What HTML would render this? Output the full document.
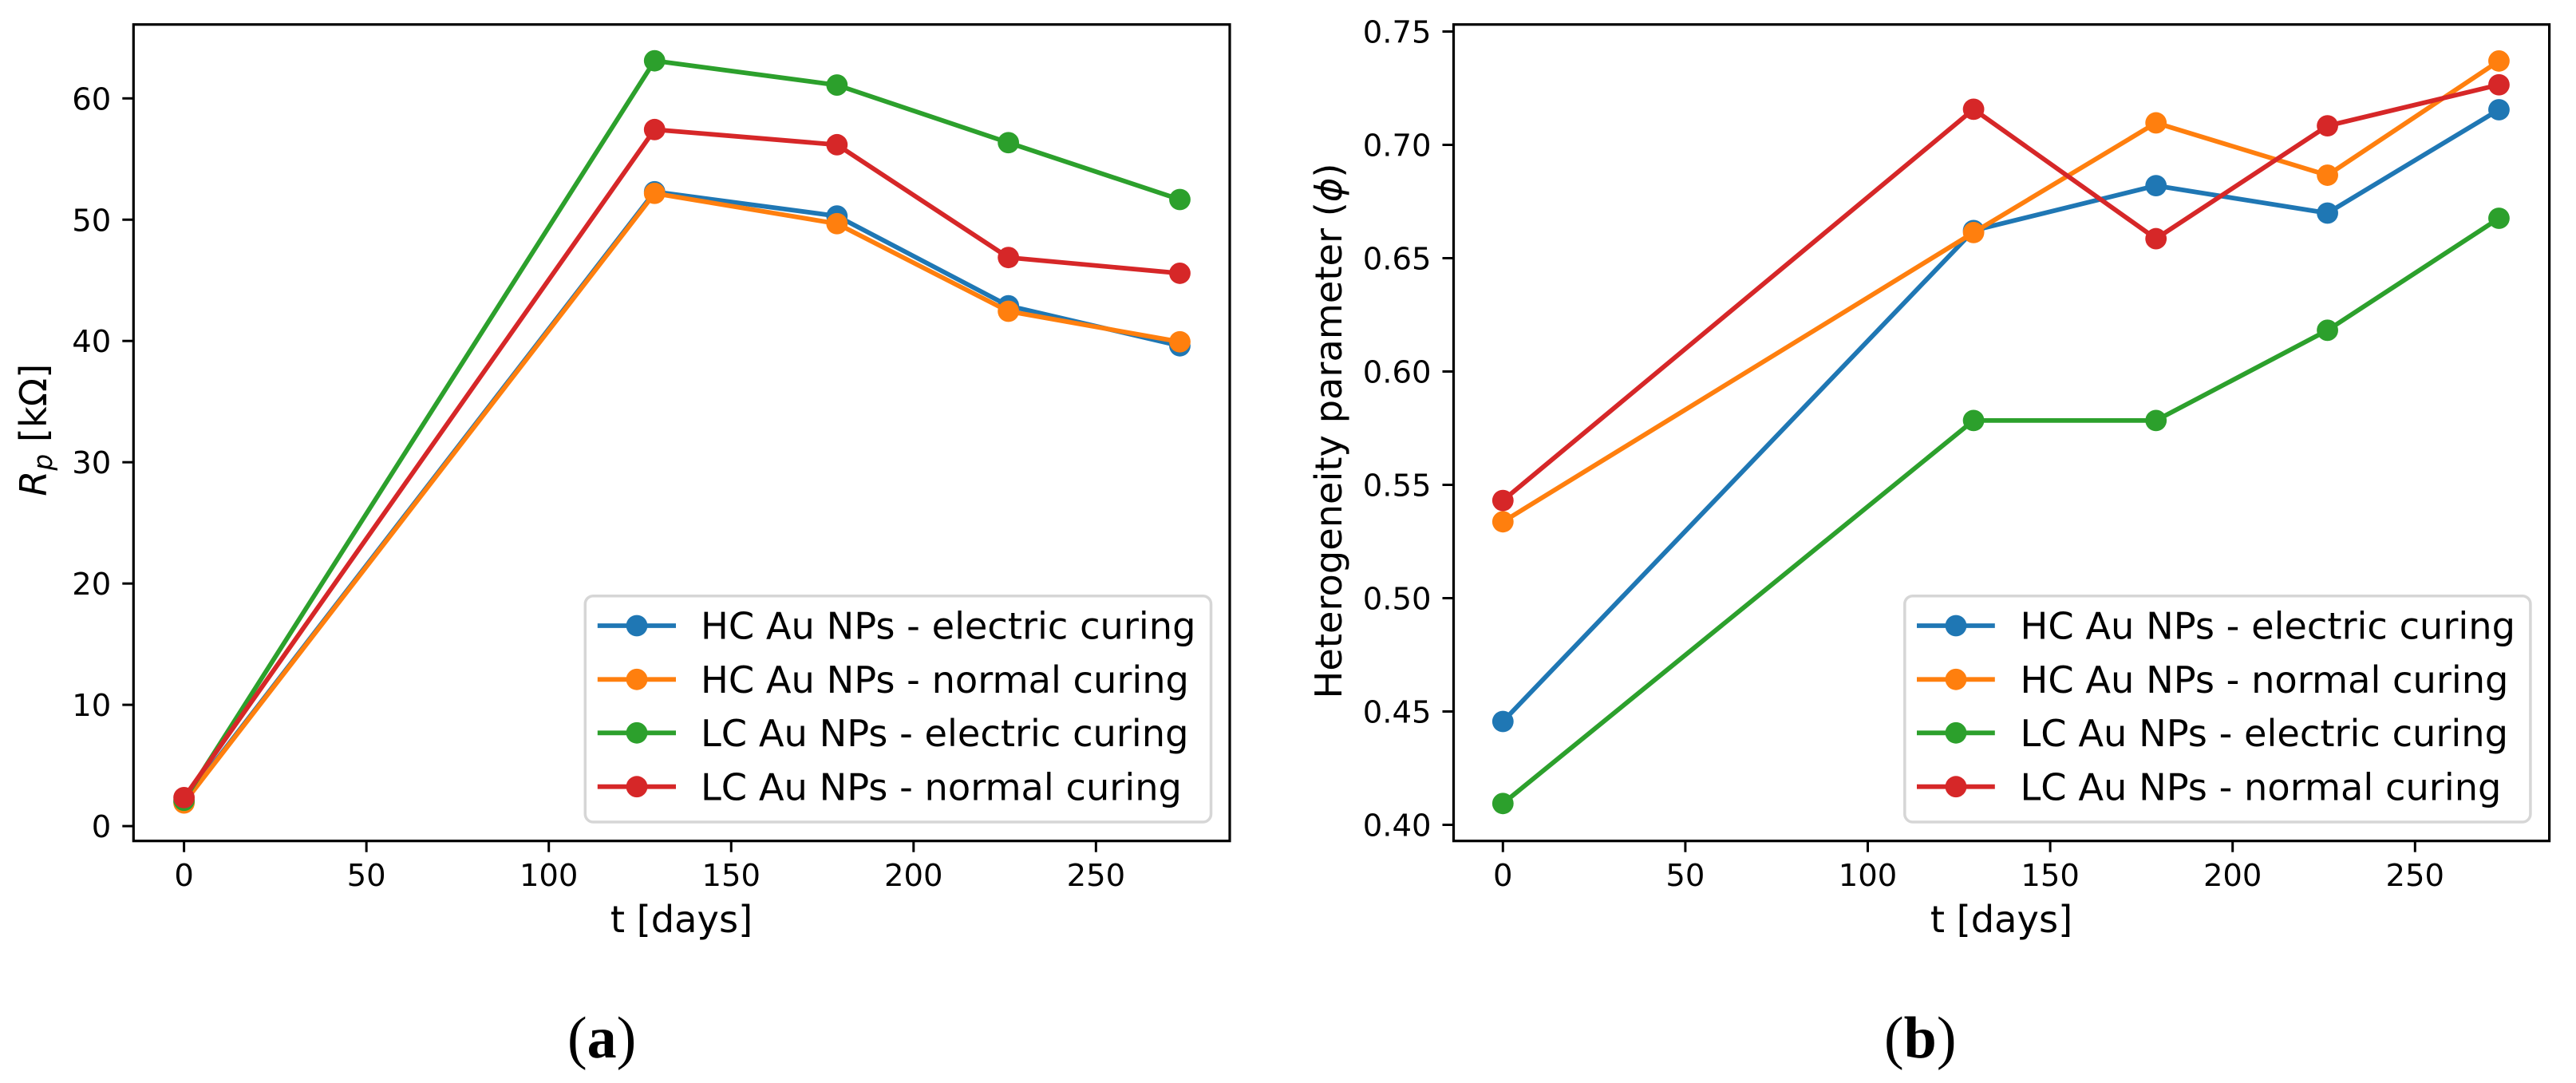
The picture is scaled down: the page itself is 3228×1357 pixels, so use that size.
<!DOCTYPE html>
<html lang="en">
<head>
<meta charset="utf-8">
<title>Rp and heterogeneity parameter over time</title>
<style>
  html, body { margin: 0; padding: 0; background: #fff; width: 3228px; height: 1357px; overflow: hidden; }
  svg { display: block; }
  text { font-family: "DejaVu Sans", "Liberation Sans", sans-serif; fill: #000; }
  .legend-text, .axis-title { font-size: 46.3px; }
  .tick-text { font-size: 38.5px; }
  .caption { font-family: "Liberation Serif", "DejaVu Serif", serif; font-size: 74px; }
  .legend-box { fill: #fff; stroke: #d6d6d6; stroke-width: 3.5; }
  .spine { fill: none; stroke: #000; stroke-width: 3.2; }
</style>
</head>
<body>
<svg id="figure" xmlns="http://www.w3.org/2000/svg" width="3228" height="1357" viewBox="0 0 3228 1357">
  <rect x="0" y="0" width="3228" height="1357" fill="#fff"/>

  <!-- Panel A -->
  <g id="panel-a">
    <g id="a-ticks"></g>
    <g id="a-series"></g>
    <rect class="spine" x="167.3" y="30.7" width="1373.7" height="1023"/>
    <text class="axis-title" transform="translate(58 621.7) rotate(-90)"><tspan font-style="italic">R</tspan><tspan font-style="italic" font-size="32.5" dy="7">p</tspan><tspan dy="-7"> [kΩ]</tspan></text>
    <text class="axis-title" x="854" y="1168" text-anchor="middle">t [days]</text>
    <g>
      <rect class="legend-box" x="733.3" y="746.7" width="784.2" height="283.3" rx="10"/>
      <g>
        <line x1="748.8" x2="847" y1="784" y2="784" stroke="#1f77b4" stroke-width="5.8"/>
        <circle cx="798" cy="784" r="13.4" fill="#1f77b4"/>
        <text class="legend-text" x="878" y="800.7">HC Au NPs - electric curing</text>
      </g>
      <g>
        <line x1="748.8" x2="847" y1="851.3" y2="851.3" stroke="#ff7f0e" stroke-width="5.8"/>
        <circle cx="798" cy="851.3" r="13.4" fill="#ff7f0e"/>
        <text class="legend-text" x="878" y="868">HC Au NPs - normal curing</text>
      </g>
      <g>
        <line x1="748.8" x2="847" y1="918.3" y2="918.3" stroke="#2ca02c" stroke-width="5.8"/>
        <circle cx="798" cy="918.3" r="13.4" fill="#2ca02c"/>
        <text class="legend-text" x="878" y="935">LC Au NPs - electric curing</text>
      </g>
      <g>
        <line x1="748.8" x2="847" y1="985.7" y2="985.7" stroke="#d62728" stroke-width="5.8"/>
        <circle cx="798" cy="985.7" r="13.4" fill="#d62728"/>
        <text class="legend-text" x="878" y="1002.4">LC Au NPs - normal curing</text>
      </g>
    </g>
    <text class="caption" x="711" y="1325">(<tspan font-weight="bold">a</tspan>)</text>
  </g>

  <!-- Panel B -->
  <g id="panel-b">
    <g id="b-ticks"></g>
    <g id="b-series"></g>
    <rect class="spine" x="1821.5" y="30.7" width="1373.1" height="1023"/>
    <text class="axis-title" text-anchor="middle" transform="translate(1681 540) rotate(-90)">Heterogeneity parameter (<tspan font-style="italic">ϕ</tspan>)</text>
    <text class="axis-title" x="2508" y="1168" text-anchor="middle">t [days]</text>
    <g>
      <rect class="legend-box" x="2386.8" y="746.7" width="784.1" height="283.3" rx="10"/>
      <g>
        <line x1="2402" x2="2499.8" y1="784" y2="784" stroke="#1f77b4" stroke-width="5.8"/>
        <circle cx="2451" cy="784" r="13.4" fill="#1f77b4"/>
        <text class="legend-text" x="2531.5" y="800.7">HC Au NPs - electric curing</text>
      </g>
      <g>
        <line x1="2402" x2="2499.8" y1="851.3" y2="851.3" stroke="#ff7f0e" stroke-width="5.8"/>
        <circle cx="2451" cy="851.3" r="13.4" fill="#ff7f0e"/>
        <text class="legend-text" x="2531.5" y="868">HC Au NPs - normal curing</text>
      </g>
      <g>
        <line x1="2402" x2="2499.8" y1="918.3" y2="918.3" stroke="#2ca02c" stroke-width="5.8"/>
        <circle cx="2451" cy="918.3" r="13.4" fill="#2ca02c"/>
        <text class="legend-text" x="2531.5" y="935">LC Au NPs - electric curing</text>
      </g>
      <g>
        <line x1="2402" x2="2499.8" y1="985.7" y2="985.7" stroke="#d62728" stroke-width="5.8"/>
        <circle cx="2451" cy="985.7" r="13.4" fill="#d62728"/>
        <text class="legend-text" x="2531.5" y="1002.4">LC Au NPs - normal curing</text>
      </g>
    </g>
    <text class="caption" x="2361" y="1325">(<tspan font-weight="bold">b</tspan>)</text>
  </g>
</svg>

<script>
// Shared x values and tick labels
const days = [0, 129, 179, 226, 273];
const xTickLabels = ["0", "50", "100", "150", "200", "250"];

// Panel A: Rp in kilo-ohm
const aYTickLabels = ["0", "10", "20", "30", "40", "50", "60"];
const aHcElectric = [2.0, 52.3, 50.3, 42.9, 39.6];
const aHcNormal = [1.91, 52.17, 49.67, 42.45, 39.93];
const aLcElectric = [2.13, 63.1, 61.1, 56.35, 51.66];
const aLcNormal = [2.35, 57.43, 56.18, 46.88, 45.58];

// Panel B: heterogeneity parameter
const bYTickLabels = ["0.40", "0.45", "0.50", "0.55", "0.60", "0.65", "0.70", "0.75"];
const bHcElectric = [0.4456, 0.6622, 0.682, 0.6699, 0.7155];
const bHcNormal = [0.5337, 0.6613, 0.7097, 0.6866, 0.737];
const bLcElectric = [0.4094, 0.5784, 0.5784, 0.6182, 0.6676];
const bLcNormal = [0.5431, 0.7157, 0.6586, 0.7084, 0.7265];

const seriesNames = ["hc-electric", "hc-normal", "lc-electric", "lc-normal"];
const seriesColors = ["#1f77b4", "#ff7f0e", "#2ca02c", "#d62728"];

const SVG_NS = "http://www.w3.org/2000/svg";

function xAxisA(v) { return 230.6 + v * 4.571; }
function yAxisA(v) { return 1035.1 - v * 15.197; }
function xAxisB(v) { return 1883.3 + v * 4.572; }
function yAxisB(v) { return 39.5 + (0.75 - v) * 2840; }

function drawTicks(groupId, prefix, xFn, yFn, spineLeft, spineBottom, xLabels, yLabels) {
  const group = document.getElementById(groupId);
  xLabels.forEach(function (label) {
    const px = xFn(Number(label));
    const tick = document.createElementNS(SVG_NS, "line");
    tick.setAttribute("x1", px);
    tick.setAttribute("x2", px);
    tick.setAttribute("y1", spineBottom);
    tick.setAttribute("y2", spineBottom + 14);
    tick.setAttribute("stroke", "#000");
    tick.setAttribute("stroke-width", "3");
    
    
    group.appendChild(tick);
    const text = document.createElementNS(SVG_NS, "text");
    text.setAttribute("class", "tick-text");
    text.setAttribute("x", px);
    text.setAttribute("y", 1110);
    text.setAttribute("text-anchor", "middle");
    text.textContent = label;
    
    
    group.appendChild(text);
  });
  yLabels.forEach(function (label) {
    const py = yFn(Number(label));
    const tick = document.createElementNS(SVG_NS, "line");
    tick.setAttribute("x1", spineLeft - 14);
    tick.setAttribute("x2", spineLeft);
    tick.setAttribute("y1", py);
    tick.setAttribute("y2", py);
    tick.setAttribute("stroke", "#000");
    tick.setAttribute("stroke-width", "3");
    
    
    group.appendChild(tick);
    const text = document.createElementNS(SVG_NS, "text");
    text.setAttribute("class", "tick-text");
    text.setAttribute("x", spineLeft - 28);
    text.setAttribute("y", py + 14);
    text.setAttribute("text-anchor", "end");
    text.textContent = label;
    
    
    group.appendChild(text);
  });
}

function drawSeries(groupId, prefix, xFn, yFn, seriesList) {
  const group = document.getElementById(groupId);
  seriesList.forEach(function (values, s) {
    const color = seriesColors[s];
    const name = seriesNames[s];
    const points = values.map(function (v, i) { return xFn(days[i]) + "," + yFn(v); }).join(" ");
    const line = document.createElementNS(SVG_NS, "polyline");
    line.setAttribute("points", points);
    line.setAttribute("fill", "none");
    line.setAttribute("stroke", color);
    line.setAttribute("stroke-width", "5.8");
    line.setAttribute("stroke-linejoin", "round");
    
    
    group.appendChild(line);
    values.forEach(function (v, i) {
      const dot = document.createElementNS(SVG_NS, "circle");
      dot.setAttribute("cx", xFn(days[i]));
      dot.setAttribute("cy", yFn(v));
      dot.setAttribute("r", "13.4");
      dot.setAttribute("fill", color);
      
      
      group.appendChild(dot);
    });
  });
}

drawTicks("a-ticks", "panel-a", xAxisA, yAxisA, 167.3, 1053.7, xTickLabels, aYTickLabels);
drawTicks("b-ticks", "panel-b", xAxisB, yAxisB, 1821.5, 1053.7, xTickLabels, bYTickLabels);
drawSeries("a-series", "panel-a", xAxisA, yAxisA, [aHcElectric, aHcNormal, aLcElectric, aLcNormal]);
drawSeries("b-series", "panel-b", xAxisB, yAxisB, [bHcElectric, bHcNormal, bLcElectric, bLcNormal]);
</script>
</body>
</html>
